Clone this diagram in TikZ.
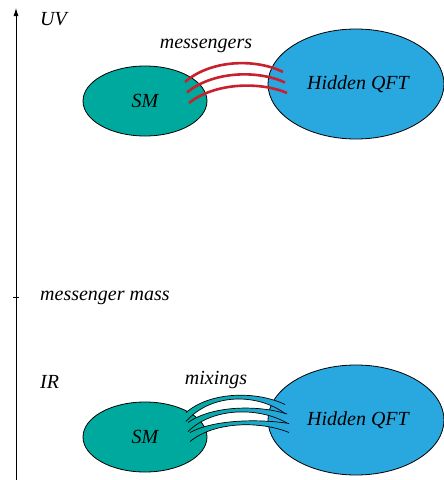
\documentclass[tikz,border=0pt]{standalone}
\usepackage{fontspec}
\setmainfont{Liberation Serif}
\usetikzlibrary{shapes.geometric,arrows.meta,calc}
\definecolor{smteal}{RGB}{0,169,157}
\definecolor{qftblue}{RGB}{41,168,224}
\definecolor{msgred}{RGB}{200,32,45}
\tikzset{
  lbl/.style={font=\fontsize{20}{24}\selectfont\itshape, inner sep=0pt},
  smnode/.style={ellipse, draw=black, line width=0.8pt, fill=smteal, minimum width=124pt, minimum height=70pt, inner sep=0pt, font=\fontsize{20}{24}\selectfont\itshape},
  qftnode/.style={ellipse, draw=black, line width=0.8pt, fill=qftblue, minimum width=176pt, minimum height=110pt, inner sep=0pt, font=\fontsize{20}{24}\selectfont\itshape},
  msgline/.style={draw=msgred, line width=2.6pt},
  mixedge/.style={draw=black, line width=0.7pt},
}
\begin{document}
\begin{tikzpicture}[x=1pt,y=-1pt]
\useasboundingbox (0,0) rectangle (444,480);
% axis
\coordinate (axb) at (16,480);
\coordinate (axt) at (16,8);
\draw[line width=0.8pt,-{Latex[length=8pt,width=5pt]}] (axb) -- (axt);
\coordinate (tk1) at (13,297);
\coordinate (tk2) at (19,297);
\draw[line width=0.8pt] (tk1) -- (tk2);
\node[lbl,anchor=west] (uv) at (40,19) {UV};
\node[lbl,anchor=west] (mm) at (40,298) {messenger mass};
\node[lbl,anchor=west] (ir) at (40,382) {IR};
% top
\node[smnode] (sm1) at (145,101) {SM};
\node[qftnode] (qft1) at (356,84) {\hspace*{4pt}Hidden QFT};
\node[lbl] (msg) at (206,46) {messengers};
\foreach \k in {0,1,2}{
  \coordinate (ma\k) at ($(185,82)+(2*\k,10.5*\k)$);
  \coordinate (mb\k) at ($(283,72)+(2*\k,10.5*\k)$);
  \draw[msgline] (ma\k) .. controls ($(ma\k)+(25,-22+\k)$) and ($(mb\k)+(-28,-14+\k)$) .. (mb\k);
}
% bottom
\node[smnode] (sm2) at (145,437) {SM};
\node[qftnode] (qft2) at (356,420) {\hspace*{4pt}Hidden QFT};
\node[lbl] (mix) at (216,380) {mixings};
\foreach \k in {0,1,2}{
  \coordinate (xa\k) at ($(186,417)+(2*\k,10*\k)$);
  \coordinate (xb\k) at ($(285,409)+(2*\k,9.5*\k)$);
  \coordinate (xc\k) at ($(xa\k)+(25,-25+4*\k)$);
  \coordinate (xd\k) at ($(xb\k)+(-28,-17+4.5*\k)$);
  \shade[left color=smteal, right color=qftblue]
    ($(xa\k)+(0,-4.5)$) .. controls ($(xc\k)+(0,-1)$) and ($(xd\k)+(0,-1)$) .. ($(xb\k)+(0,-4.5)$)
    -- ($(xb\k)+(0,4.5)$) .. controls ($(xd\k)+(0,1)$) and ($(xc\k)+(0,1)$) .. ($(xa\k)+(0,4.5)$) -- cycle;
  \draw[mixedge] ($(xa\k)+(0,-4.5)$) .. controls ($(xc\k)+(0,-1)$) and ($(xd\k)+(0,-1)$) .. ($(xb\k)+(0,-4.5)$);
  \draw[mixedge] ($(xa\k)+(0,4.5)$) .. controls ($(xc\k)+(0,1)$) and ($(xd\k)+(0,1)$) .. ($(xb\k)+(0,4.5)$);
}
\end{tikzpicture}
\end{document}
